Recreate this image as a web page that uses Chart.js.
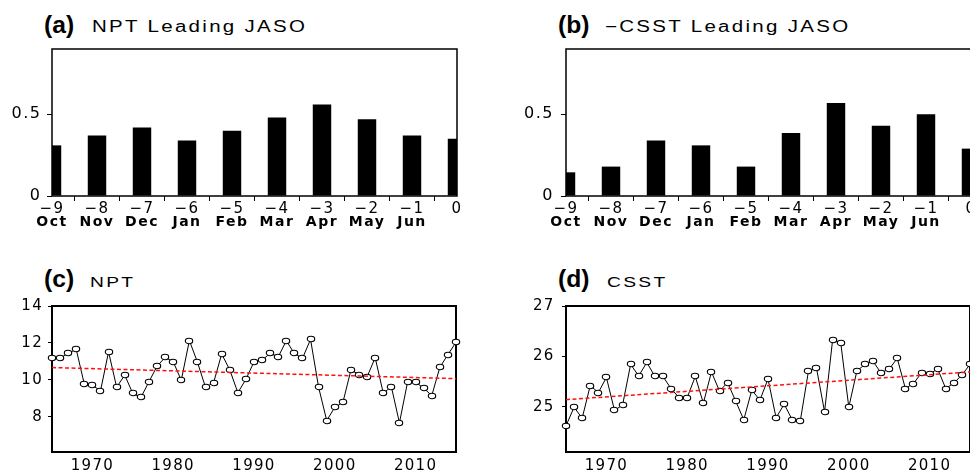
<!DOCTYPE html>
<html>
<head>
<meta charset="utf-8">
<script src="https://cdn.jsdelivr.net/npm/chart.js@4.4.1/dist/chart.umd.min.js"></script>
<style>
  html, body { margin: 0; padding: 0; width: 970px; height: 472px; overflow: hidden; background: #fff; }
  canvas { position: absolute; }
  .tag, .ttl {
    position: absolute; white-space: nowrap; color: #000;
    font-family: "Liberation Sans", Arial, sans-serif; transform-origin: 0 0;
  }
  .tag { font-size: 23.5px; line-height: 23.5px; font-weight: bold; transform: scaleX(1.05); }
  .ttl { font-size: 16px; line-height: 20px; letter-spacing: 1.8px; transform: scaleX(1.28); }
  .ttl.low { font-size: 15px; letter-spacing: 1.8px; }
</style>
</head>
<body>
<div class="tag" style="left:44px;top:13.5px">(a)</div>
<div class="ttl" style="left:92px;top:16.8px">NPT Leading JASO</div>
<div class="tag" style="left:558px;top:13.5px">(b)</div>
<div class="ttl" style="left:605px;top:16.8px">&minus;CSST Leading JASO</div>
<div class="tag" style="left:44px;top:267.6px">(c)</div>
<div class="ttl low" style="left:90px;top:272.1px">NPT</div>
<div class="tag" style="left:558px;top:267.6px">(d)</div>
<div class="ttl low" style="left:607px;top:272.1px">CSST</div>

<canvas id="chartA" width="475" height="205" style="left:0;top:30px"></canvas>
<canvas id="chartB" width="475" height="205" style="left:514px;top:30px"></canvas>
<canvas id="chartC" width="475" height="187" style="left:0;top:285px"></canvas>
<canvas id="chartD" width="475" height="187" style="left:514px;top:285px"></canvas>

<script>
// lead months (top panels)
const leadLabels = ["\u22129", "\u22128", "\u22127", "\u22126", "\u22125", "\u22124", "\u22123", "\u22122", "\u22121", "0"];
const monthLabels = ["Oct", "Nov", "Dec", "Jan", "Feb", "Mar", "Apr", "May", "Jun", ""];
const leadTicks = [0, 0.5];
const nptLead = [0.31, 0.37, 0.42, 0.34, 0.40, 0.48, 0.56, 0.47, 0.37, 0.35];
const csstLead = [0.145, 0.18, 0.34, 0.31, 0.18, 0.385, 0.57, 0.43, 0.50, 0.29];

// yearly series (bottom panels)
const years = [1965, 1966, 1967, 1968, 1969, 1970, 1971, 1972, 1973, 1974,
  1975, 1976, 1977, 1978, 1979, 1980, 1981, 1982, 1983, 1984,
  1985, 1986, 1987, 1988, 1989, 1990, 1991, 1992, 1993, 1994,
  1995, 1996, 1997, 1998, 1999, 2000, 2001, 2002, 2003, 2004,
  2005, 2006, 2007, 2008, 2009, 2010, 2011, 2012, 2013, 2014, 2015];
const yearTicks = [1970, 1980, 1990, 2000, 2010];
const npt = [11.18, 11.18, 11.44, 11.65, 9.77, 9.72, 9.40, 11.52, 9.61, 10.26,
  9.27, 9.05, 9.90, 10.74, 11.22, 10.99, 9.98, 12.13, 10.96, 9.60,
  9.85, 11.40, 10.55, 9.31, 10.03, 10.98, 11.07, 11.44, 11.25, 12.12,
  11.43, 11.17, 12.19, 9.60, 7.80, 8.52, 8.78, 10.54, 10.29, 10.17,
  11.20, 9.28, 9.63, 7.68, 9.87, 9.87, 9.56, 9.15, 10.68, 11.37, 12.04];
const csst = [24.62, 24.99, 24.77, 25.42, 25.28, 25.58, 24.93, 25.03, 25.84, 25.61,
  25.88, 25.60, 25.60, 25.36, 25.18, 25.18, 25.60, 25.07, 25.69, 25.31,
  25.48, 25.11, 24.74, 25.33, 25.13, 25.55, 24.78, 25.05, 24.74, 24.72,
  25.70, 25.77, 24.90, 26.33, 26.27, 24.99, 25.71, 25.84, 25.90, 25.67,
  25.75, 25.96, 25.36, 25.46, 25.67, 25.65, 25.75, 25.36, 25.47, 25.63, 25.84];
const trendYears = [1965, 2015];
const nptTrend = [10.67, 10.07];
const csstTrend = [25.14, 25.69];
const nptTicks = [8, 10, 12, 14];
const csstTicks = [25, 26, 27];

Chart.defaults.color = "#000";
Chart.defaults.font.family = '"DejaVu Sans", sans-serif';
Chart.defaults.animation = false;
Chart.defaults.plugins.legend.display = false;
Chart.defaults.plugins.tooltip.enabled = false;

// box around the plot area, wide lettering, crisp marker images
const frame = {
  id: "frame",
  beforeDraw(chart, args, opts) {
    chart.ctx.imageSmoothingEnabled = false;
    chart.ctx.letterSpacing = (opts.spacing || 0) + "px";
  },
  beforeDatasetsDraw(chart, args, opts) {
    const { ctx, chartArea: a } = chart;
    ctx.save();
    ctx.strokeStyle = "#000";
    ctx.lineWidth = opts.width || 1.5;
    ctx.strokeRect(a.left, a.top, a.right - a.left, a.bottom - a.top);
    ctx.restore();
  },
};
Chart.register(frame);

// open elliptic marker
const dot = document.createElement("canvas");
dot.width = 10;
dot.height = 8;
const dctx = dot.getContext("2d");
dctx.beginPath();
dctx.ellipse(5, 4, 3.7, 2.7, 0, 0, Math.PI * 2);
dctx.fillStyle = "#fff";
dctx.fill();
dctx.lineWidth = 1.1;
dctx.strokeStyle = "#000";
dctx.stroke();

const leadChart = (id, values, yPad) => {
  return new Chart(document.getElementById(id), {
    type: "bar",
    data: {
      labels: leadLabels,
      datasets: [{
        data: values,
        backgroundColor: "#000",
        barPercentage: 0.41,
        categoryPercentage: 1,
      }],
    },
    options: {
      responsive: false,
      layout: { padding: { left: 0, right: 18, top: 19, bottom: 4 } },
      plugins: { frame: { width: 1.5, spacing: 1.5 } },
      scales: {
        x: {
          type: "category",
          offset: false,
          weight: 1,
          grid: { drawOnChartArea: false, color: "#000", tickLength: 5 },
          border: { display: false },
          ticks: { autoSkip: false, maxRotation: 0, padding: -0.5, font: { size: 15 } },
          afterFit: (s) => { s.height = 20; },
        },
        x2: {
          type: "category",
          position: "bottom",
          labels: monthLabels,
          offset: false,
          weight: 2,
          grid: { display: false, drawTicks: false },
          border: { display: false },
          ticks: { autoSkip: false, maxRotation: 0, padding: -2.4, font: { size: 14, weight: "bold" } },
          afterFit: (s) => { s.height = 15; },
        },
        y: {
          min: 0,
          max: 0.9,
          grid: { drawOnChartArea: false, color: "#000", tickLength: 5 },
          border: { display: false },
          ticks: { padding: yPad, font: { size: 16 }, callback: (v) => String(v) },
          afterBuildTicks: (s) => { s.ticks = leadTicks.map((v) => ({ value: v })); },
          afterFit: (s) => { s.width = 52; },
        },
      },
    },
  });
};

const seriesChart = (id, values, trend, yMin, yMax, yTicks, yPad) => {
  return new Chart(document.getElementById(id), {
    type: "line",
    data: {
      datasets: [
        {
          data: trendYears.map((x, i) => ({ x: x, y: trend[i] })),
          borderColor: "#ff1010",
          borderWidth: 1.5,
          borderDash: [4, 2.5],
          pointRadius: 0,
        },
        {
          data: years.map((x, i) => ({ x: x, y: values[i] })),
          borderColor: "#000",
          borderWidth: 1,
          pointStyle: dot,
          pointRadius: 4,
          clip: 6,
        },
      ],
    },
    options: {
      responsive: false,
      layout: { padding: { left: 0, right: 19, top: 21, bottom: 0 } },
      plugins: { frame: { width: 2, spacing: 1.3 } },
      scales: {
        x: {
          type: "linear",
          min: 1965,
          max: 2015,
          grid: { display: false, drawTicks: false },
          border: { display: false },
          ticks: { padding: 5, font: { size: 15 }, callback: (v) => String(v) },
          afterBuildTicks: (s) => { s.ticks = yearTicks.map((v) => ({ value: v })); },
          afterFit: (s) => { s.height = 20; },
        },
        y: {
          min: yMin,
          max: yMax,
          grid: { drawOnChartArea: false, color: "#000", tickLength: 4 },
          border: { display: false },
          ticks: { padding: yPad, font: { size: 15 }, callback: (v) => String(v) },
          afterBuildTicks: (s) => { s.ticks = yTicks.map((v) => ({ value: v })); },
          afterFit: (s) => { s.width = 52; },
        },
      },
    },
  });
};

leadChart("chartA", nptLead, 5.5);
leadChart("chartB", csstLead, 7);
seriesChart("chartC", npt, nptTrend, 6.1, 14, nptTicks, 5);
seriesChart("chartD", csst, csstTrend, 24.1, 27, csstTicks, 7.4);
</script>
</body>
</html>
